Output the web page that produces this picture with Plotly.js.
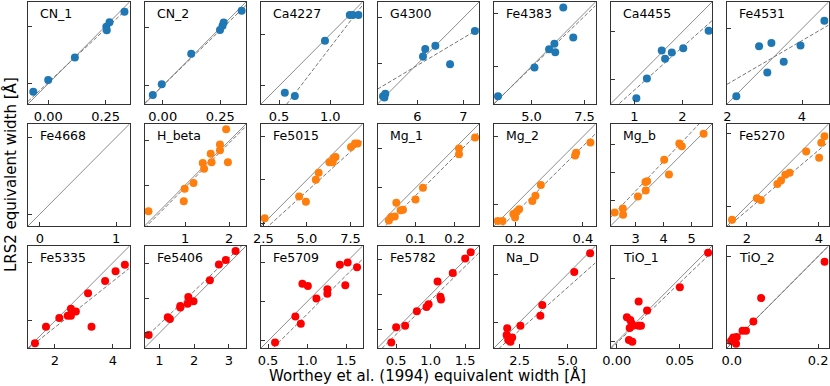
<!DOCTYPE html>
<html>
<head>
<meta charset="utf-8">
<script src="https://cdn.plot.ly/plotly-3.0.1.min.js"></script>
<style>
body { margin: 0; background: #fff; }
#plotArea { width: 830px; height: 386px; }
</style>
</head>
<body>
<div id="plotArea"></div>
<script>
// Lick indices, Worthey et al. (1994) vs LRS2
var indexNames = ["CN_1", "CN_2", "Ca4227", "G4300", "Fe4383", "Ca4455", "Fe4531",
    "Fe4668", "H_beta", "Fe5015", "Mg_1", "Mg_2", "Mg_b", "Fe5270",
    "Fe5335", "Fe5406", "Fe5709", "Fe5782", "Na_D", "TiO_1", "TiO_2"];

var axisMin = [-0.088, -0.079, 0.324, 5.13, 3.23, 0.50, 1.99,
    -0.156, 0.08, 2.36, 0.003, 0.138, 2.10, 1.45,
    1.07, 0.57, 0.41, 0.23, 1.16, -0.005, -0.011];
var axisMax = [0.354, 0.362, 1.314, 7.34, 8.02, 2.62, 4.71,
    1.174, 2.38, 8.19, 0.262, 0.437, 5.73, 4.27,
    4.57, 3.49, 1.71, 1.70, 6.46, 0.0755, 0.224];
var tickStep = [0.25, 0.25, 0.5, 1, 2.5, 1, 2,
    1, 1, 2.5, 0.1, 0.2, 1, 2,
    2, 1, 0.5, 0.5, 2.5, 0.05, 0.2];
var tickFormat = [".2f", ".2f", ".1f", ".0f", ".1f", ".0f", ".0f",
    ".0f", ".0f", ".1f", ".1f", ".1f", ".0f", ".0f",
    ".0f", ".0f", ".1f", ".1f", ".1f", ".2f", ".1f"];

var wortheyEW = [
    [-0.065, 0.0, 0.116, 0.253, 0.267, 0.255, 0.332],
    [-0.043, -0.004, 0.124, 0.249, 0.260, 0.265, 0.343],
    [0.556, 0.654, 0.948, 1.19, 1.22, 1.275],
    [5.25, 5.30, 5.28, 6.12, 6.17, 6.39, 6.71, 7.25],
    [3.42, 5.14, 5.83, 6.08, 6.12, 6.50, 6.97],
    [1.04, 1.26, 1.57, 1.64, 1.78, 2.02, 2.55],
    [2.24, 2.85, 3.18, 3.07, 3.51, 3.96, 4.60],
    [],
    [0.17, 0.99, 0.97, 1.19, 1.40, 1.43, 1.58, 1.60, 1.79, 1.79, 1.93, 1.97],
    [2.57, 4.55, 4.94, 5.51, 5.67, 6.29, 6.54, 6.64, 6.48, 7.53, 7.76, 7.91],
    [0.032, 0.038, 0.047, 0.051, 0.062, 0.068, 0.100, 0.119, 0.211, 0.211, 0.252],
    [0.149, 0.163, 0.195, 0.200, 0.205, 0.212, 0.251, 0.260, 0.276, 0.377, 0.380, 0.422],
    [2.25, 2.54, 2.55, 3.08, 3.35, 3.41, 3.36, 4.02, 4.19, 4.56, 4.65, 5.43],
    [1.59, 2.28, 2.39, 2.85, 2.95, 3.07, 3.19, 3.65, 4.01, 4.07, 4.16],
    [1.31, 1.69, 2.15, 2.44, 2.55, 2.55, 2.72, 3.14, 3.26, 3.73, 4.09, 4.41],
    [0.69, 1.24, 1.30, 1.60, 1.60, 1.81, 1.83, 1.98, 2.45, 2.71, 2.91, 3.19],
    [0.59, 0.85, 0.92, 0.94, 1.01, 1.12, 1.26, 1.26, 1.42, 1.49, 1.52, 1.64],
    [0.43, 0.50, 0.63, 0.80, 0.94, 0.97, 1.10, 1.14, 1.15, 1.32, 1.50, 1.58],
    [1.85, 1.82, 1.90, 2.02, 2.11, 1.95, 2.54, 3.58, 3.68, 5.35, 6.18],
    [0.0080, 0.0107, 0.0118, 0.0102, 0.0128, 0.0096, 0.0123, 0.0173, 0.0173, 0.0192, 0.024, 0.050, 0.0724],
    [-0.0017, 0.0037, 0.0116, 0.010, 0.002, 0.025, 0.033, 0.050, 0.068, 0.215]
];

var lrs2EW = [
    [-0.035, 0.016, 0.114, 0.247, 0.266, 0.232, 0.312],
    [-0.040, 0.006, 0.138, 0.241, 0.259, 0.273, 0.324],
    [0.434, 0.402, 0.938, 1.187, 1.187, 1.187],
    [5.30, 5.35, 5.27, 6.16, 6.32, 6.39, 5.99, 6.71],
    [3.59, 4.94, 5.80, 6.06, 5.66, 7.76, 6.35],
    [0.62, 1.03, 1.61, 1.44, 1.57, 1.66, 2.02],
    [2.20, 3.53, 3.62, 2.83, 3.12, 3.55, 4.21],
    [],
    [0.41, 0.92, 0.64, 1.05, 1.50, 1.37, 1.71, 1.52, 1.92, 1.79, 2.26, 1.52],
    [2.80, 4.05, 3.74, 5.00, 5.40, 6.00, 6.24, 6.30, 6.01, 6.88, 7.07, 7.07],
    [0.017, 0.026, 0.027, 0.062, 0.043, 0.044, 0.070, 0.100, 0.200, 0.185, 0.228],
    [0.153, 0.153, 0.173, 0.163, 0.180, 0.187, 0.211, 0.227, 0.258, 0.345, 0.353, 0.383],
    [2.58, 2.72, 2.50, 3.15, 3.67, 3.69, 3.36, 4.46, 3.93, 5.04, 4.94, 5.38],
    [1.62, 2.22, 2.17, 2.61, 2.71, 2.87, 2.92, 3.51, 3.34, 3.75, 3.93],
    [1.23, 1.80, 2.10, 2.18, 2.42, 2.18, 2.32, 2.95, 1.80, 3.37, 3.70, 3.93],
    [0.94, 1.45, 1.40, 1.77, 1.73, 1.84, 2.03, 1.91, 2.51, 2.96, 3.09, 3.35],
    [0.48, 0.81, 0.72, 1.23, 1.20, 1.04, 1.16, 1.10, 1.47, 1.21, 1.50, 1.44],
    [0.31, 0.53, 0.55, 0.76, 0.82, 0.86, 1.19, 0.97, 0.93, 1.31, 1.52, 1.61],
    [2.19, 1.84, 1.58, 1.49, 1.70, 1.70, 2.32, 2.84, 3.40, 5.11, 6.08],
    [0.0192, 0.0171, 0.0144, 0.0107, 0.0125, 0.0014, 0.0000, 0.0317, 0.0125, 0.0125, 0.0245, 0.043, 0.0702],
    [0.0053, 0.013, 0.0146, -0.001, 0.009, 0.029, 0.029, 0.050, 0.104, 0.188]
];

// only G4300 has error bars big enough to see
var g4300Err = [0.07, 0.07, 0.07, 0.09, 0.09, 0.08, 0.08, 0.07];

var fitSlope = [0.93, 0.96, 1.30, 0.593, 0.96, 0.89, 0.58,
    null, 1.0, 0.9, 1.0, 0.985, 1.05, 0.84,
    0.79, 0.95, 0.99, 0.98, 0.884, 0.95, 1.0];
var fitIntercept = [0.005, 0.0, -0.425, 2.41, 0.15, -0.10, 1.36,
    null, -0.05, -0.15, -0.02, -0.022, 0.2, 0.19,
    0.2, 0.3, -0.15, -0.064, -0.12, -0.001, 0.0];

var rowColors = ["#1f77b4", "#ff7f0e", "#ff0000"];

var W = 830, H = 386;
var data = [];
var layout = {
    width: W, height: H,
    margin: {l: 0, r: 0, t: 0, b: 0},
    paper_bgcolor: "#fff", plot_bgcolor: "#fff",
    showlegend: false, hovermode: false,
    font: {family: "DejaVu Sans", size: 13, color: "#000"},
    annotations: []
};

for (var i = 0; i < indexNames.length; i++) {
    var row = Math.floor(i / 7), col = i % 7;
    var n = i === 0 ? "" : String(i + 1);
    var panelLeft = 28 + col * 116.5, panelTop = 2 + row * 122;
    var lo = axisMin[i], hi = axisMax[i];

    var axCommon = {
        range: [lo, hi], dtick: tickStep[i], tick0: 0,
        showgrid: false, zeroline: false,
        showline: true, mirror: true, linecolor: "#333", linewidth: 1,
        ticks: "inside", ticklen: 4, tickcolor: "#333",
        fixedrange: true
    };
    var xa = Object.assign({}, axCommon, {
        domain: [panelLeft / W, (panelLeft + 101.5) / W],
        anchor: "y" + n, tickformat: tickFormat[i],
        tickfont: {family: "DejaVu Sans", size: 13, color: "#000"}
    });
    var ya = Object.assign({}, axCommon, {
        range: [lo, hi],
        domain: [1 - (panelTop + 102) / H, 1 - panelTop / H],
        anchor: "x" + n, showticklabels: false
    });
    layout["xaxis" + n] = xa;
    layout["yaxis" + n] = ya;

    // one-to-one line
    data.push({
        x: [lo, hi], y: [lo, hi], xaxis: "x" + n, yaxis: "y" + n,
        mode: "lines", type: "scatter",
        line: {color: "#8c8c8c", width: 1}
    });
    // linear fit
    if (fitSlope[i] !== null) {
        data.push({
            x: [lo, hi],
            y: [fitSlope[i] * lo + fitIntercept[i], fitSlope[i] * hi + fitIntercept[i]],
            xaxis: "x" + n, yaxis: "y" + n,
            mode: "lines", type: "scatter",
            line: {color: "#777", width: 1, dash: "4px,2px"}
        });
    }
    var pts = {
        x: wortheyEW[i], y: lrs2EW[i], xaxis: "x" + n, yaxis: "y" + n,
        mode: "markers", type: "scatter",
        marker: {color: rowColors[row], size: 8}
    };
    if (indexNames[i] === "G4300") {
        pts.error_y = {type: "data", array: g4300Err, color: rowColors[row], thickness: 1.5, width: 0};
    }
    data.push(pts);

    layout.annotations.push({
        text: indexNames[i], xref: "x" + n + " domain", yref: "y" + n + " domain",
        x: 0.1, y: 0.89, xanchor: "left", yanchor: "middle", showarrow: false,
        font: {family: "DejaVu Sans", size: 12.5, color: "#000"}
    });
}

layout.annotations.push({
    text: "Worthey et al. (1994) equivalent width [Å]",
    xref: "paper", yref: "paper", x: 427 / W, y: 1 - 375 / H,
    xanchor: "center", yanchor: "middle", showarrow: false,
    font: {family: "DejaVu Sans", size: 15, color: "#000"}
});
layout.annotations.push({
    text: "LRS2 equivalent width [Å]",
    xref: "paper", yref: "paper", x: 10 / W, y: 1 - 175 / H,
    xanchor: "center", yanchor: "middle", showarrow: false, textangle: -90,
    font: {family: "DejaVu Sans", size: 15, color: "#000"}
});

Plotly.newPlot("plotArea", data, layout, {staticPlot: true});
</script>
</body>
</html>
